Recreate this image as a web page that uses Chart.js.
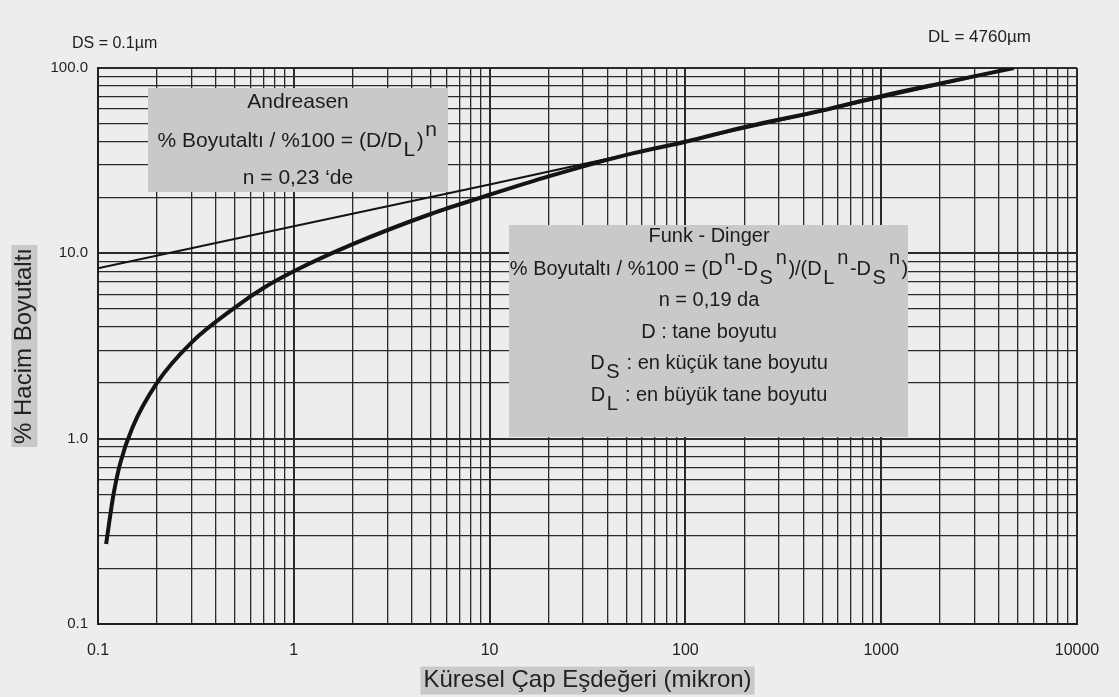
<!DOCTYPE html>
<html lang="tr">
<head>
<meta charset="utf-8">
<title>Andreasen - Funk Dinger</title>
<script src="https://cdn.jsdelivr.net/npm/chart.js@4.4.1/dist/chart.umd.min.js"></script>
<style>
  body { margin: 0; background: #ededed; }
  canvas { display: block; }
</style>
</head>
<body>
<canvas id="grafico" width="1119" height="697"></canvas>
<script>
//Dados
const tamanhoFunk = [0.11, 0.12, 0.13, 0.15, 0.2, 0.3, 0.5, 0.7, 1, 2, 5, 10, 20, 50, 100, 200, 500, 1000, 2000, 4760]
const funkDinger = [0.27, 0.5, 0.74, 1.15, 2.0, 3.3, 5.1, 6.5, 8.0, 11.2, 16.3, 20.7, 26, 34, 40, 48, 59, 70.5, 82.5, 100]

const tamanhoAndreasen = [0.1, 1, 10, 100, 1000, 4760]
const andreasen = [8.3, 14, 23.5, 40, 69, 100]

const xTicks = [0.1, 1, 10, 100, 1000, 10000]
const xTickLabels = ['0.1', '1', '10', '100', '1000', '10000']
const yTicks = [0.1, 1, 10, 100]
const yTickLabels = ['0.1', '1.0', '10.0', '100.0']

const FONTE = '"Liberation Sans", Arial, sans-serif'
const CINZA = '#c9c9c9'
const TITULO_TAM = 24

//Linhas de grade 1..9 em cada decada
function gradeLog(majors) {
    const valores = []
    for (let i = 0; i < majors.length - 1; i++) {
        for (let k = 1; k < 10; k++) {
            valores.push(majors[i] * k)
        }
    }
    valores.push(majors[majors.length - 1])
    return valores
}

const gradeX = gradeLog(xTicks)
const gradeY = gradeLog(yTicks)

//Texto com indice e expoente
function textoRico(ctx, partes, cx, cy, tam) {
    ctx.font = `${tam}px ${FONTE}`
    let largura = 0
    partes.forEach(p => {
        p.w = ctx.measureText(p.t).width + (p.s ? 3 : 0)
        largura += p.w
    })
    let x = cx - largura / 2
    partes.forEach(p => {
        const dy = p.s == 'sup' ? -11 : p.s == 'sub' ? 9 : 0
        ctx.fillText(p.t, x + (p.s ? 1.5 : 0), cy + dy)
        x += p.w
    })
}

const caixaAndreasen = {
    x: 148, y: 88, w: 300, h: 104, cx: 298, tam: 21,
    linhas: [
        { y: 102, partes: [{ t: 'Andreasen' }] },
        { y: 141, partes: [{ t: '% Boyutaltı / %100 = (D/D' }, { t: 'L', s: 'sub' }, { t: ')' }, { t: 'n', s: 'sup' }] },
        { y: 178, partes: [{ t: 'n = 0,23 ‘de' }] }
    ]
}

const caixaFunk = {
    x: 509, y: 225, w: 399, h: 212, cx: 709, tam: 20,
    linhas: [
        { y: 236, partes: [{ t: 'Funk - Dinger' }] },
        { y: 269, partes: [{ t: '% Boyutaltı / %100 = (D' }, { t: 'n', s: 'sup' }, { t: '-D' }, { t: 'S', s: 'sub' }, { t: 'n', s: 'sup' },
            { t: ')/(D' }, { t: 'L', s: 'sub' }, { t: 'n', s: 'sup' }, { t: '-D' }, { t: 'S', s: 'sub' }, { t: 'n', s: 'sup' }, { t: ')' }] },
        { y: 300, partes: [{ t: 'n = 0,19 da' }] },
        { y: 332, partes: [{ t: 'D : tane boyutu' }] },
        { y: 363, partes: [{ t: 'D' }, { t: 'S', s: 'sub' }, { t: ' : en küçük tane boyutu' }] },
        { y: 395, partes: [{ t: 'D' }, { t: 'L', s: 'sub' }, { t: ' : en büyük tane boyutu' }] }
    ]
}

const fundoEcaixas = {
    id: 'fundoEcaixas',
    beforeDraw(chart) {
        const ctx = chart.ctx
        ctx.save()
        ctx.fillStyle = '#ededed'
        ctx.fillRect(0, 0, chart.width, chart.height)

        //Fundo cinza dos titulos dos eixos
        ctx.font = `${TITULO_TAM}px ${FONTE}`
        const meiaLinha = TITULO_TAM * 1.2 / 2
        const sx = chart.scales.x
        const sy = chart.scales.y
        const wx = ctx.measureText(sx.options.title.text).width
        const cxX = (sx.left + sx.right) / 2
        const cyX = sx.bottom - (meiaLinha + 2)
        ctx.fillStyle = CINZA
        ctx.fillRect(cxX - wx / 2 - 3, cyX - 14, wx + 6, 28)
        const wy = ctx.measureText(sy.options.title.text).width
        const cxY = sy.left + meiaLinha + 10
        const cyY = (sy.top + sy.bottom) / 2
        ctx.fillRect(cxY - 13, cyY - wy / 2 - 3, 26, wy + 6)
        ctx.restore()
    },
    afterDraw(chart) {
        const ctx = chart.ctx
        ctx.save()
        ctx.textBaseline = 'middle'
        ctx.textAlign = 'left'
        ;[caixaAndreasen, caixaFunk].forEach(c => {
            ctx.fillStyle = CINZA
            ctx.fillRect(c.x, c.y, c.w, c.h)
            ctx.fillStyle = '#1c1c1c'
            c.linhas.forEach(l => textoRico(ctx, l.partes, c.cx, l.y, c.tam))
        })

        ctx.fillStyle = '#222'
        ctx.font = `16px ${FONTE}`
        ctx.fillText('DS = 0.1µm', 72, 44)
        ctx.font = `17px ${FONTE}`
        ctx.fillText('DL = 4760µm', 928, 37)
        ctx.restore()
    }
}

function larguraGrade(valoresMaiores) {
    return ctx => valoresMaiores.includes(ctx.tick.value) ? 2 : 1.3
}

new Chart(document.getElementById('grafico'), {
    type: 'line',
    data: {
        datasets: [
            {
                label: 'Funk - Dinger',
                data: tamanhoFunk.map((d, i) => ({ x: d, y: funkDinger[i] })),
                borderColor: '#141414',
                borderWidth: 4,
                pointRadius: 0,
                cubicInterpolationMode: 'monotone',
                fill: false
            },
            {
                label: 'Andreasen',
                data: tamanhoAndreasen.map((d, i) => ({ x: d, y: andreasen[i] })),
                borderColor: '#141414',
                borderWidth: 2,
                pointRadius: 0,
                fill: false
            }
        ]
    },
    options: {
        responsive: false,
        animation: false,
        devicePixelRatio: 1,
        layout: { padding: { top: 68, right: 42, left: 0, bottom: 0 } },
        plugins: {
            legend: { display: false },
            tooltip: { enabled: false }
        },
        scales: {
            x: {
                type: 'logarithmic',
                min: 0.1,
                max: 10000,
                afterBuildTicks: s => { s.ticks = gradeX.map(v => ({ value: v })) },
                afterFit: s => { s.height = 73 },
                grid: { color: '#2b2b2b', lineWidth: larguraGrade(xTicks), drawTicks: false },
                border: { color: '#1e1e1e', width: 2 },
                ticks: {
                    autoSkip: false,
                    maxRotation: 0,
                    padding: 17,
                    color: '#222',
                    font: { family: FONTE, size: 16 },
                    callback: v => {
                        const i = xTicks.indexOf(v)
                        return i >= 0 ? xTickLabels[i] : ''
                    }
                },
                title: {
                    display: true,
                    text: 'Küresel Çap Eşdeğeri (mikron)',
                    color: '#222',
                    font: { family: FONTE, size: TITULO_TAM },
                    padding: { top: 0, bottom: 2 }
                }
            },
            y: {
                type: 'logarithmic',
                min: 0.1,
                max: 100,
                afterBuildTicks: s => { s.ticks = gradeY.map(v => ({ value: v })) },
                afterFit: s => { s.width = 98 },
                grid: { color: '#2b2b2b', lineWidth: larguraGrade(yTicks), drawTicks: false },
                border: { color: '#1e1e1e', width: 2 },
                ticks: {
                    autoSkip: false,
                    padding: 10,
                    color: '#222',
                    font: { family: FONTE, size: 15 },
                    callback: v => {
                        const i = yTicks.indexOf(v)
                        return i >= 0 ? yTickLabels[i] : ''
                    }
                },
                title: {
                    display: true,
                    text: '% Hacim Boyutaltı',
                    color: '#222',
                    font: { family: FONTE, size: TITULO_TAM },
                    padding: { top: 10, bottom: 0 }
                }
            }
        }
    },
    plugins: [fundoEcaixas]
})
</script>
</body>
</html>
